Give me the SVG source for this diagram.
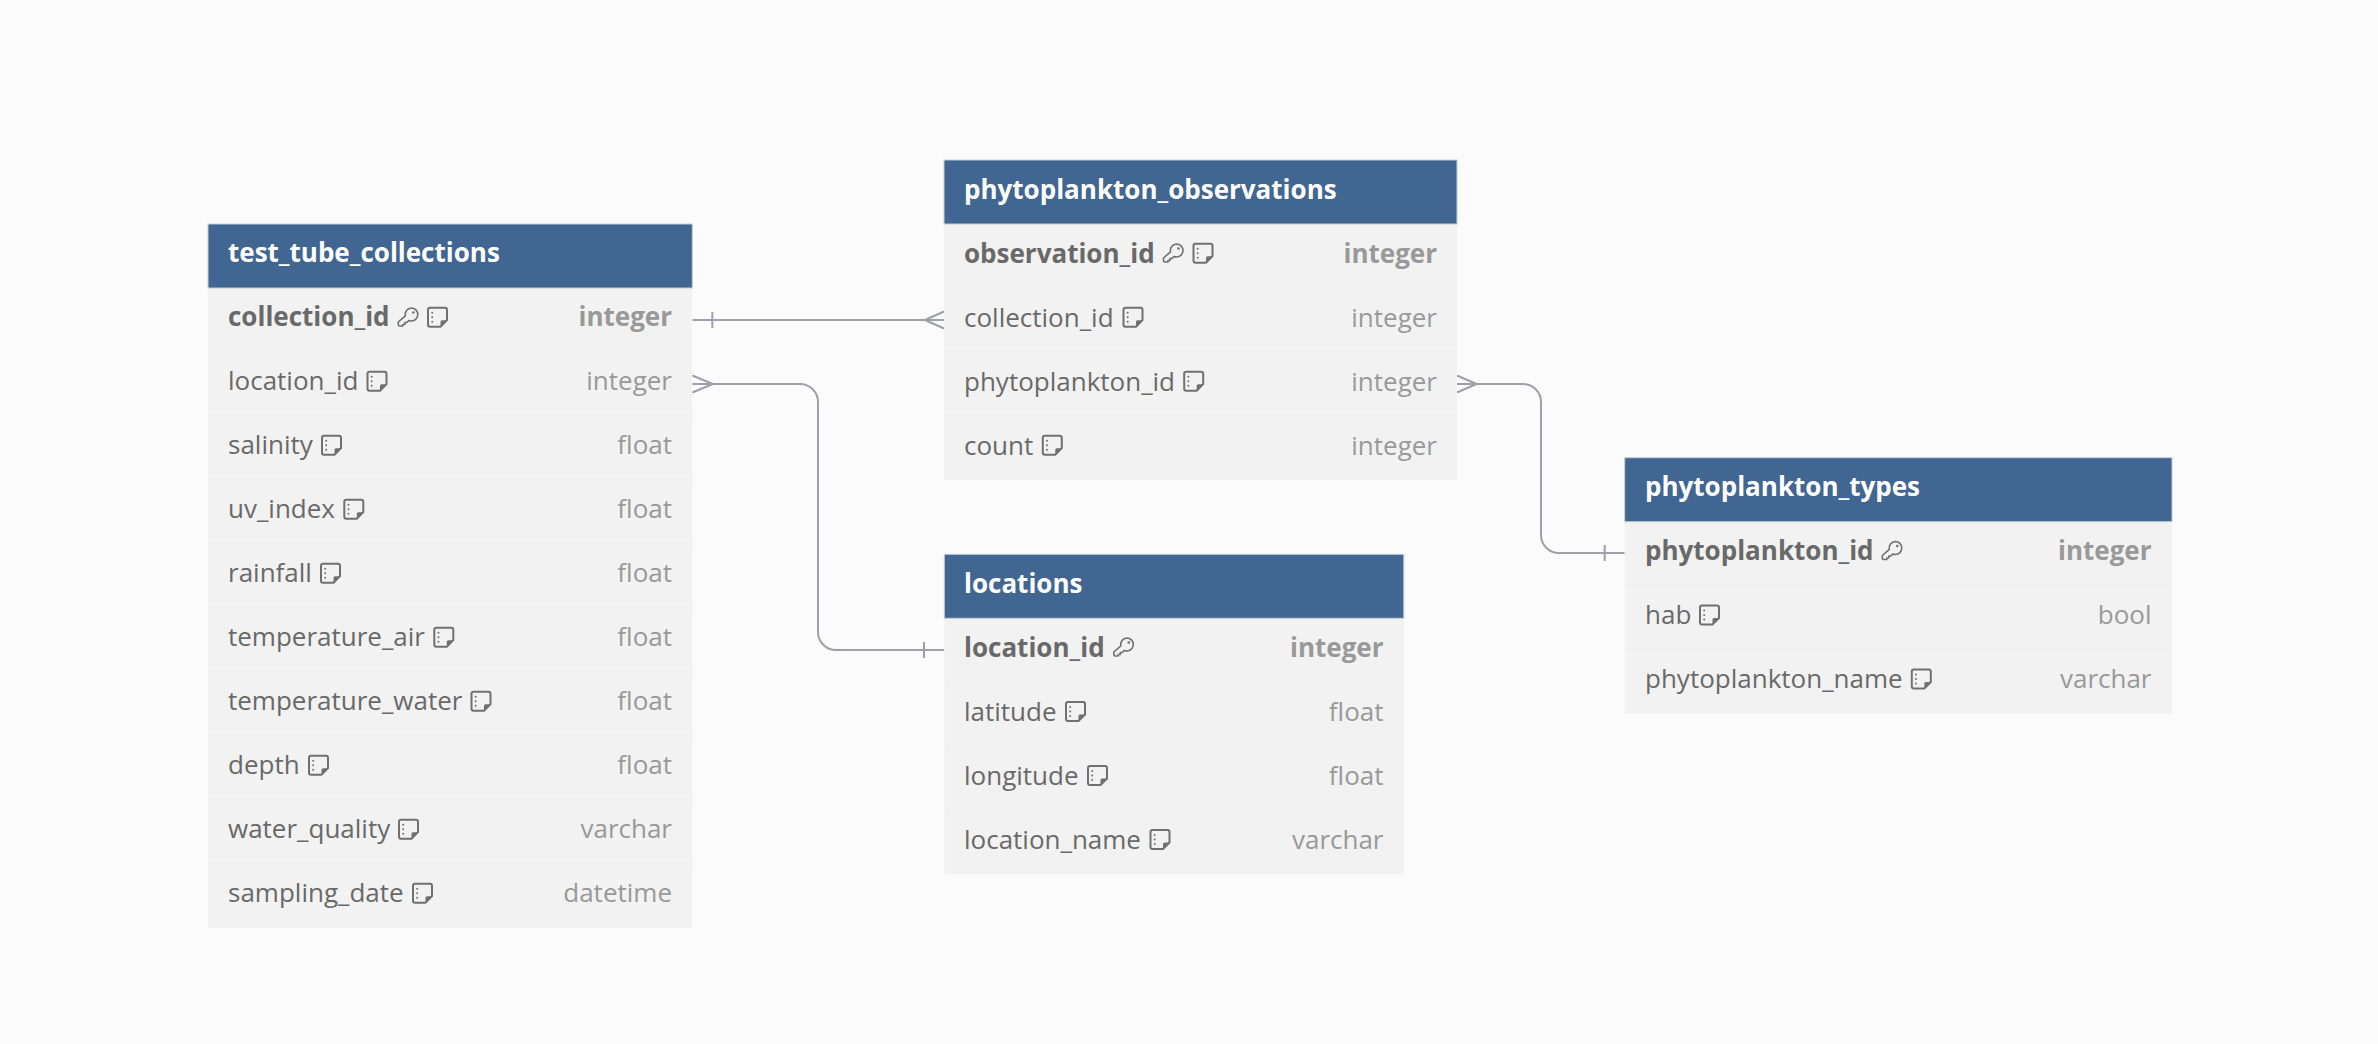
<svg xmlns="http://www.w3.org/2000/svg" width="2378" height="1044" viewBox="0 0 2378 1044">
<style>
text{font-family:"Open Sans","Noto Sans","Liberation Sans",sans-serif;font-size:26px}
.hd{fill:#416692;stroke:#c3cfdc;stroke-width:1}
.bd{fill:#f2f2f2}
.sep{stroke:#efefef;stroke-width:1}
.t{font-weight:700;fill:#fff}
.n{fill:#696969}
.y{fill:#999;text-anchor:end}
.b{font-weight:700}
.c{fill:none;stroke:#9f9faa;stroke-width:2}
</style>
<defs>
<symbol id="note" viewBox="0 0 21 21" width="21" height="21" overflow="visible">
<path d="M3 1H18a2 2 0 0 1 2 2V13.500L13.500 20H3a2 2 0 0 1-2-2V3a2 2 0 0 1 2-2z" fill="none" stroke="#707070" stroke-width="2"/>
<path d="M20 13.500H15a1.500 1.500 0 0 0-1.500 1.500V20z" fill="#707070"/>
<circle cx="5.200" cy="6" r="1" fill="#707070"/><circle cx="5.200" cy="10.500" r="1" fill="#707070"/><circle cx="5.200" cy="15" r="1" fill="#707070"/>
</symbol>
<symbol id="key" viewBox="0 0 22 20" width="22" height="20" overflow="visible">
<path d="M14 1a6.500 6.500 0 0 1 0 13a6.500 6.500 0 0 1-2.600-.5L9.500 15.500H7.500V17.500H5.500V19H2.500a1.500 1.500 0 0 1-1.500-1.500V15L8 8.800A6.500 6.500 0 0 1 14 1z" fill="none" stroke="#707070" stroke-width="1.600" stroke-linejoin="round"/>
<circle cx="16" cy="5.500" r="1.300" fill="#707070"/>
</symbol>
</defs>
<rect width="2378" height="1044" fill="#fbfbfb"/>

<g id="connectors">
<path class="c" d="M692.300 320H944M712.300 312V328M925 320L944 311.500M925 320L944 328.500"/>
<path class="c" d="M692.300 384H800a18 18 0 0 1 18 18V632a18 18 0 0 0 18 18H944.300M712.700 384L692.300 375.500M712.700 384L692.300 392.500M924 642V658"/>
<path class="c" d="M1457 384H1523a18 18 0 0 1 18 18V535a18 18 0 0 0 18 18H1624.700M1476.500 384L1457 375.500M1476.500 384L1457 392.500M1604.700 545V561"/>
</g>

<g id="test_tube_collections">
<rect class="bd" x="208" y="288" width="484.300" height="640"/>
<rect class="hd" x="208" y="224" width="484.300" height="64"/>
<path class="sep" d="M208 416H692M208 480H692M208 544H692M208 608H692M208 672H692M208 736H692M208 800H692M208 864H692"/>
<text class="t" x="228" y="262">test_tube_collections</text>
<text class="n b" x="228" y="326">collection_id</text><text class="y b" x="672" y="326">integer</text><use href="#key" x="397.300" y="307"/><use href="#note" x="427" y="306.700"/>
<text class="n" x="228" y="390">location_id</text><text class="y" x="672" y="390">integer</text><use href="#note" x="366.500" y="370.700"/>
<text class="n" x="228" y="454">salinity</text><text class="y" x="672" y="454">float</text><use href="#note" x="321" y="434.700"/>
<text class="n" x="228" y="518">uv_index</text><text class="y" x="672" y="518">float</text><use href="#note" x="343.300" y="498.700"/>
<text class="n" x="228" y="582">rainfall</text><text class="y" x="672" y="582">float</text><use href="#note" x="320" y="562.700"/>
<text class="n" x="228" y="646">temperature_air</text><text class="y" x="672" y="646">float</text><use href="#note" x="433.300" y="626.700"/>
<text class="n" x="228" y="710">temperature_water</text><text class="y" x="672" y="710">float</text><use href="#note" x="470.500" y="690.700"/>
<text class="n" x="228" y="774">depth</text><text class="y" x="672" y="774">float</text><use href="#note" x="308" y="754.700"/>
<text class="n" x="228" y="838">water_quality</text><text class="y" x="672" y="838">varchar</text><use href="#note" x="398" y="818.700"/>
<text class="n" x="228" y="902">sampling_date</text><text class="y" x="672" y="902">datetime</text><use href="#note" x="412" y="882.700"/>
</g>

<g id="phytoplankton_observations">
<rect class="bd" x="944" y="224" width="513" height="256"/>
<rect class="hd" x="944" y="160" width="513" height="64"/>
<path class="sep" d="M944 352H1457M944 416H1457"/>
<text class="t" x="964" y="199">phytoplankton_observations</text>
<text class="n b" x="964" y="263">observation_id</text><text class="y b" x="1437" y="263">integer</text><use href="#key" x="1162.500" y="243"/><use href="#note" x="1192.500" y="242.700"/>
<text class="n" x="964" y="327">collection_id</text><text class="y" x="1437" y="327">integer</text><use href="#note" x="1122.500" y="306.700"/>
<text class="n" x="964" y="391">phytoplankton_id</text><text class="y" x="1437" y="391">integer</text><use href="#note" x="1183.200" y="370.700"/>
<text class="n" x="964" y="455">count</text><text class="y" x="1437" y="455">integer</text><use href="#note" x="1041.800" y="434.700"/>
</g>

<g id="locations">
<rect class="bd" x="944.300" y="618.300" width="459.500" height="256"/>
<rect class="hd" x="944.300" y="554.300" width="459.500" height="64"/>
<path class="sep" d="M944 682.300H1404M944 746.300H1404M944 810.300H1404"/>
<text class="t" x="964" y="592.500">locations</text>
<text class="n b" x="964" y="656.500">location_id</text><text class="y b" x="1383.500" y="656.500">integer</text><use href="#key" x="1112.800" y="637"/>
<text class="n" x="964" y="720.500">latitude</text><text class="y" x="1383.500" y="720.500">float</text><use href="#note" x="1065" y="701"/>
<text class="n" x="964" y="784.500">longitude</text><text class="y" x="1383.500" y="784.500">float</text><use href="#note" x="1087" y="765"/>
<text class="n" x="964" y="848.500">location_name</text><text class="y" x="1383.500" y="848.500">varchar</text><use href="#note" x="1149.500" y="829"/>
</g>

<g id="phytoplankton_types">
<rect class="bd" x="1624.700" y="521.700" width="547.300" height="192"/>
<rect class="hd" x="1624.700" y="457.700" width="547.300" height="64"/>
<path class="sep" d="M1625 585.700H2172M1625 649.700H2172"/>
<text class="t" x="1645" y="496">phytoplankton_types</text>
<text class="n b" x="1645" y="560">phytoplankton_id</text><text class="y b" x="2151.500" y="560">integer</text><use href="#key" x="1881.300" y="540.500"/>
<text class="n" x="1645" y="624">hab</text><text class="y" x="2151.500" y="624">bool</text><use href="#note" x="1699" y="604.500"/>
<text class="n" x="1645" y="688">phytoplankton_name</text><text class="y" x="2151.500" y="688">varchar</text><use href="#note" x="1910.800" y="668.500"/>
</g>
</svg>
